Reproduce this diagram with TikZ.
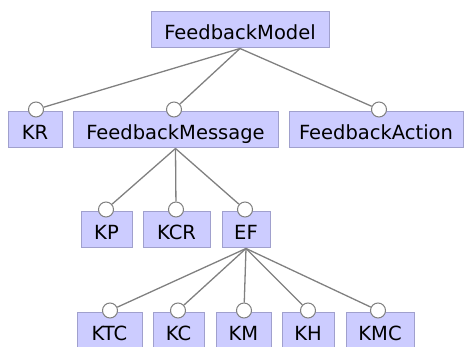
\documentclass[tikz,border=0pt]{standalone}
\usepackage{fontspec}
\setmainfont{DejaVu Sans}
\begin{document}
\begin{tikzpicture}[x=1pt,y=-1pt,
  feat/.style={draw=boxline, fill=boxfill, line width=1pt, rectangle,
    minimum height=36pt, inner sep=0pt, text height=19pt, text depth=0pt,
    font=\fontsize{19.5}{20}\selectfont},
  knob/.style={circle, draw=linkgray, fill=white, line width=1pt,
    minimum size=15pt, inner sep=0pt},
  link/.style={draw=linkgray, line width=1.3pt}]
\definecolor{boxfill}{RGB}{204,204,255}
\definecolor{boxline}{RGB}{160,160,205}
\definecolor{linkgray}{RGB}{128,128,128}
\useasboundingbox (0,0) rectangle (466,347);

% feature boxes
\node[feat, minimum width=178pt] (fm)  at (240,30)   {FeedbackModel};
\node[feat, minimum width=54pt]  (kr)  at (35,130)   {KR};
\node[feat, minimum width=205pt] (fmsg) at (175.5,130) {FeedbackMessage};
\node[feat, minimum width=174pt] (fa)  at (376,130)  {FeedbackAction};
\node[feat, minimum width=51pt]  (kp)  at (106.5,230) {KP};
\node[feat, minimum width=67pt]  (kcr) at (176.5,230) {KCR};
\node[feat, minimum width=48pt]  (ef)  at (246,230)  {EF};
\node[feat, minimum width=65pt]  (ktc) at (109.5,331) {KTC};
\node[feat, minimum width=51pt]  (kc)  at (178.5,331) {KC};
\node[feat, minimum width=55pt]  (km)  at (243.5,331) {KM};
\node[feat, minimum width=52pt]  (kh)  at (308,331)  {KH};
\node[feat, minimum width=68pt]  (kmc) at (380,331)  {KMC};

% optional-feature knobs sitting on the top edge of each child
\foreach \n/\px in {kr/36, fmsg/174, fa/379, kp/106, kcr/176, ef/245,
                    ktc/110, kc/178, km/244, kh/308, kmc/378}{
  \node[knob, yshift=2pt] (\n-c) at (\px,0 |- \n.north) {};
}

% connectors from each parent to its children's knobs
\foreach \p/\c in {fm/kr, fm/fmsg, fm/fa, fmsg/kp, fmsg/kcr, fmsg/ef,
                   ef/ktc, ef/kc, ef/km, ef/kh, ef/kmc}{
  \draw[link] (\p.south) -- (\c-c);
}
\end{tikzpicture}
\end{document}
